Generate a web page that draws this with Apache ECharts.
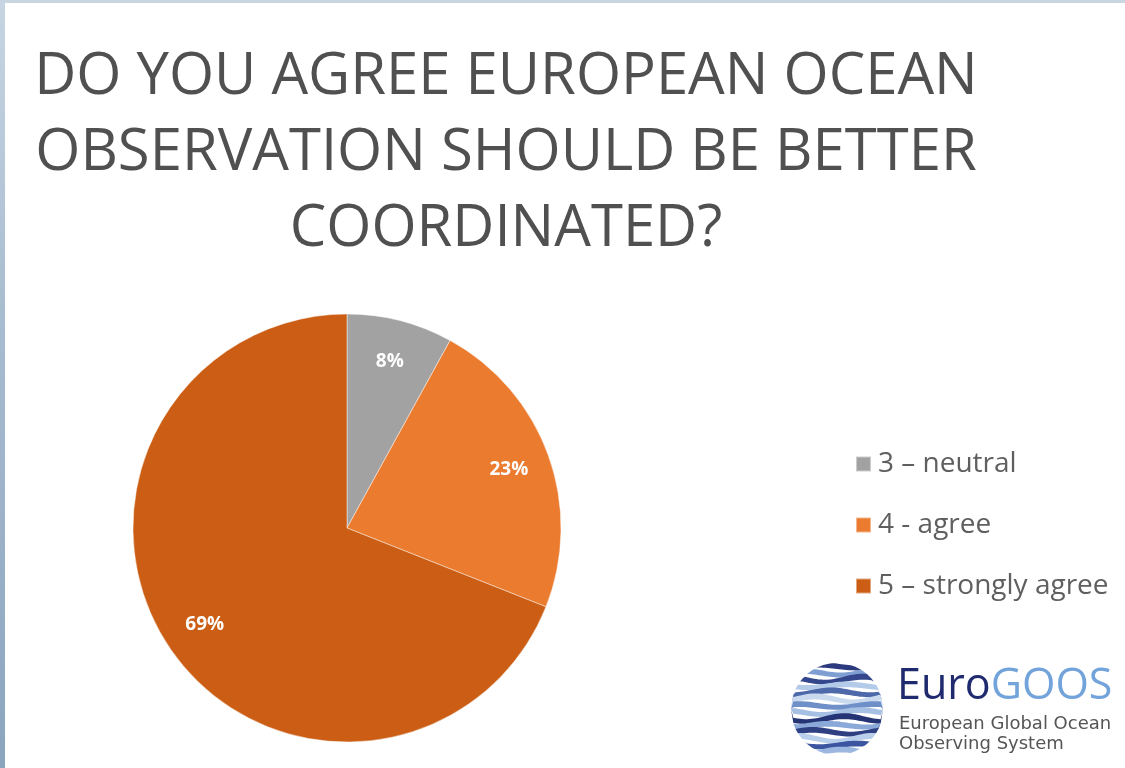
<!DOCTYPE html>
<html>
<head>
<meta charset="utf-8">
<script src="https://cdn.jsdelivr.net/npm/echarts@6/dist/echarts.min.js"></script>
<style>
  html, body { margin: 0; padding: 0; background: #ffffff; }
  #chart { width: 1125px; height: 768px; }
</style>
</head>
<body>
<div id="chart"></div>
<script>
// Survey answers and their shares (percent)
const categories = ['3 \u2013 neutral', '4 - agree', '5 \u2013 strongly agree'];
const shares = [8, 23, 69];
const sliceColors = ['#A2A2A2', '#EB7B2F', '#CB5E14'];
const titleLines = [
  'DO YOU AGREE EUROPEAN OCEAN',
  'OBSERVATION SHOULD BE BETTER',
  'COORDINATED?'
];

const pieData = categories.map((name, i) => ({
  name: name,
  value: shares[i],
  itemStyle: { color: sliceColors[i] }
}));

// Wavy bands of the EuroGOOS globe emblem, each band trimmed to the disc
function globeBands(cx, cy, R) {
  const palette = ['#2b3a7e', '#7f9fd2', '#34478c', '#b3cbe9', '#4d69aa', '#c9daef',
                   '#6f8fc8', '#a6c0e4', '#253474', '#8aa9d9', '#2e3f82', '#b9cfeb', '#3c55a0', '#9db8e0'];
  const out = [];
  const n = palette.length;
  const step = (2 * R) / n;
  const gap = 1.2;
  const samples = 40;
  for (let i = 0; i < n; i++) {
    const y0 = cy - R + i * step;
    const amp = 1.8 + (i % 3) * 0.6;
    const phase = i * 1.3;
    const top = [];
    const bottom = [];
    for (let k = 0; k <= samples; k++) {
      const x = -R + (2 * R * k) / samples;
      const h = Math.sqrt(Math.max(R * R - x * x, 0));
      const wave = amp * Math.sin((x / R) * Math.PI * 1.2 + phase);
      let yt = y0 + gap / 2 + wave;
      let yb = y0 + step - gap / 2 + wave * 0.8;
      yt = Math.max(yt, cy - h);
      yb = Math.min(yb, cy + h);
      if (yt > yb) { const m = Math.min(Math.max((yt + yb) / 2, cy - h), cy + h); yt = m; yb = m; }
      top.push([cx + x, yt]);
      bottom.push([cx + x, yb]);
    }
    out.push({
      type: 'polygon',
      silent: true,
      shape: { points: top.concat(bottom.reverse()) },
      style: { fill: palette[i] }
    });
  }
  return out;
}

const chart = echarts.init(document.getElementById('chart'), null, { renderer: 'canvas' });

chart.setOption({
  backgroundColor: '#ffffff',
  animation: false,
  title: {
    text: titleLines.join('\n'),
    left: 501,
    top: 34,
    textAlign: 'center',
    textStyle: {
      fontFamily: 'Open Sans',
      fontWeight: 'normal',
      fontSize: 58,
      lineHeight: 76,
      color: '#505050'
    }
  },
  legend: {
    orient: 'vertical',
    left: 855,
    top: 450,
    padding: 0,
    icon: 'rect',
    itemWidth: 15,
    itemHeight: 15,
    itemGap: 33,
    data: categories,
    textStyle: {
      fontFamily: 'Open Sans',
      fontSize: 28,
      lineHeight: 28,
      color: '#5f5f5f',
      padding: [0, 0, 0, 2]
    }
  },
  series: [
    {
      type: 'pie',
      name: 'shares',
      center: [347, 528],
      radius: [0, 214],
      startAngle: 90,
      clockwise: true,
      label: { show: false },
      labelLine: { show: false },
      itemStyle: { borderColor: 'rgba(255,255,255,0.45)', borderWidth: 1 },
      emphasis: { disabled: true },
      data: pieData
    },
    {
      // Transparent ring carrying the percentage labels near the rim
      type: 'pie',
      name: 'labels',
      center: [347, 528],
      radius: [124, 214],
      startAngle: 90,
      clockwise: true,
      silent: true,
      itemStyle: { color: 'rgba(0,0,0,0)' },
      label: {
        show: true,
        position: 'inside',
        formatter: '{c}%',
        color: '#ffffff',
        fontFamily: 'Open Sans',
        fontWeight: 'bold',
        fontSize: 19
      },
      labelLine: { show: false },
      emphasis: { disabled: true },
      data: pieData.map(d => ({ name: d.name, value: d.value }))
    }
  ],
  graphic: [
    {
      type: 'rect',
      silent: true,
      shape: { x: 0, y: 0, width: 1125, height: 3 },
      style: { fill: '#c8d6e2' }
    },
    {
      type: 'rect',
      silent: true,
      shape: { x: 0, y: 0, width: 5, height: 768 },
      style: {
        fill: new echarts.graphic.LinearGradient(0, 0, 0, 1, [
          { offset: 0, color: '#c7d5e2' },
          { offset: 0.4, color: '#a9bdd1' },
          { offset: 1, color: '#8ba5bf' }
        ])
      }
    },
    ...globeBands(837, 709, 46),
    {
      type: 'text',
      silent: true,
      style: {
        x: 897,
        y: 708,
        verticalAlign: 'bottom',
        text: '{a|Euro}{b|GOOS}',
        rich: {
          a: { fontFamily: 'Open Sans', fontSize: 43, fill: '#1f2b6e' },
          b: { fontFamily: 'Open Sans', fontSize: 43, fill: '#72a3da' }
        }
      }
    },
    {
      type: 'text',
      silent: true,
      style: {
        x: 899,
        y: 714,
        text: 'European Global Ocean\nObserving System',
        fontFamily: 'DejaVu Sans',
        fontSize: 18,
        lineHeight: 20,
        fill: '#555555'
      }
    }
  ]
});
</script>
</body>
</html>
